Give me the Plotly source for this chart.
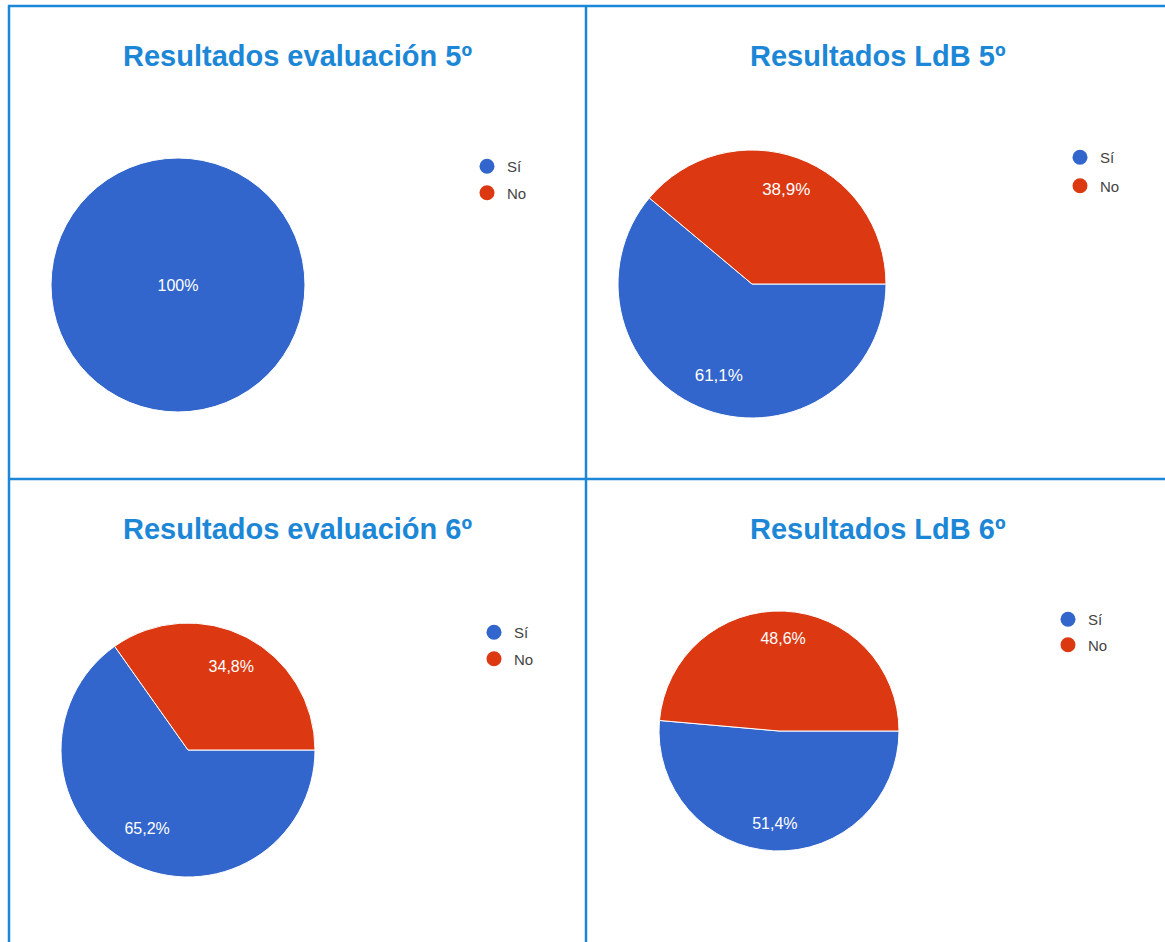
import plotly.graph_objects as go

W, H = 1165, 942

categories = ["Sí", "No"]
colors = ["#3366cc", "#dc3912"]
titles = ["Resultados evaluación 5º", "Resultados LdB 5º",
          "Resultados evaluación 6º", "Resultados LdB 6º"]
eval5 = [100, 0]
ldb5 = [61.1, 38.9]
eval6 = [65.2, 34.8]
ldb6 = [51.4, 48.6]
series = [eval5, ldb5, eval6, ldb6]

# layout (pixel) specs: pie center/radius, legend anchor, title center, label font size
pies = [(178, 285, 127), (752, 284, 134), (188, 750, 127), (779, 731, 120)]
label_scale = [1.0, 1.45, 1.4, 1.55]   # radius factor of the label layer (pushes labels outward)
legends_px = [(467, 150), (1060, 141), (474, 616), (1048, 603)]
legend_gaps = [4, 6, 4, 3]
titles_px = [(297, 56), (878, 56), (297, 529), (878, 529)]
label_sizes = [16, 17, 16, 16]

BLUE = "#1c87d6"
FONT = "Arial, Liberation Sans"


def domain(cx, cy, r):
    return dict(x=[(cx - r) / W, (cx + r) / W], y=[max(0, 1 - (cy + r) / H), min(1, 1 - (cy - r) / H)])


fig = go.Figure()
for i, vals in enumerate(series):
    cx, cy, r = pies[i]
    # coloured slices
    fig.add_trace(go.Pie(
        labels=categories, values=vals, sort=False,
        direction="clockwise", rotation=90,
        marker=dict(colors=colors, line=dict(color="white", width=[1 if v > 0 else 0 for v in vals])),
        textinfo="none",
        domain=domain(cx, cy, r),
        showlegend=False, hoverinfo="label+percent",
    ))
    # percentage labels (transparent layer, slightly larger so labels sit further out like Google Charts)
    k = label_scale[i]
    fig.add_trace(go.Pie(
        labels=categories, values=vals, sort=False,
        direction="clockwise", rotation=90,
        marker=dict(colors=["rgba(0,0,0,0)"] * len(vals), line=dict(width=0)),
        textinfo="percent", textposition="inside",
        insidetextorientation="horizontal",
        textfont=dict(color="white", size=label_sizes[i], family=FONT),
        domain=domain(cx, cy, r * k),
        showlegend=False, hoverinfo="skip",
    ))
    lg = "legend" if i == 0 else f"legend{i+1}"
    for j, cat in enumerate(categories):
        fig.add_trace(go.Scatter(
            x=[None], y=[None], mode="markers", name=cat,
            marker=dict(color=colors[j], size=15, symbol="circle"),
            legend=lg, legendgroup=f"{i}-{j}", showlegend=True,
        ))

lay = {}
for i, (lx, ly) in enumerate(legends_px):
    key = "legend" if i == 0 else f"legend{i+1}"
    lay[key] = dict(x=lx / W, y=1 - ly / H,
                    font=dict(size=15, color="#444", family=FONT),
                    bgcolor="rgba(0,0,0,0)", xanchor="left", yanchor="top",
                    tracegroupgap=legend_gaps[i], itemsizing="trace")

annotations = []
for t, (tx, ty) in zip(titles, titles_px):
    annotations.append(dict(text=f"<b>{t}</b>", x=tx / W, y=1 - ty / H, xref="paper", yref="paper",
                            showarrow=False, xanchor="center", yanchor="middle",
                            font=dict(size=29, color=BLUE, family=FONT)))

lw = 2.5
shapes = [
    dict(type="line", xref="paper", yref="paper", x0=8 / W, x1=1, y0=1 - 6 / H, y1=1 - 6 / H,
         line=dict(color=BLUE, width=lw)),
    dict(type="line", xref="paper", yref="paper", x0=9 / W, x1=9 / W, y0=0, y1=1 - 5 / H,
         line=dict(color=BLUE, width=lw)),
    dict(type="line", xref="paper", yref="paper", x0=586 / W, x1=586 / W, y0=0, y1=1 - 6 / H,
         line=dict(color=BLUE, width=lw)),
    dict(type="line", xref="paper", yref="paper", x0=8 / W, x1=1, y0=1 - 479 / H, y1=1 - 479 / H,
         line=dict(color=BLUE, width=lw)),
]

fig.update_layout(
    width=W, height=H, margin=dict(l=0, r=0, t=0, b=0),
    paper_bgcolor="white", plot_bgcolor="white",
    separators=",.",
    xaxis=dict(visible=False), yaxis=dict(visible=False),
    annotations=annotations, shapes=shapes,
    **lay,
)

fig.write_html("out.html", config={"displayModeBar": False},
               post_script="document.body.style.margin='0';")
